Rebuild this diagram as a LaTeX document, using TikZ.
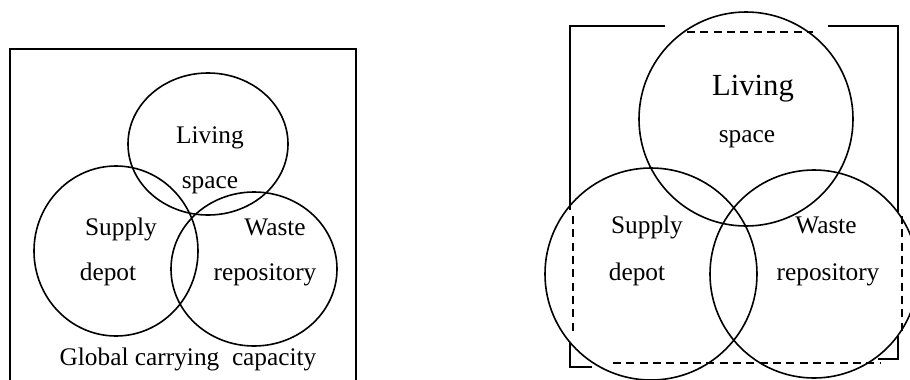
\documentclass[tikz,border=0pt]{standalone}
\usepackage{fontspec}
\setmainfont{Liberation Serif}
\usepackage{tikz}
\usetikzlibrary{calc}

\begin{document}
\begin{tikzpicture}[x=0.75pt,y=-0.75pt
                    ]
                % define styles
\tikzset{ring/.style={draw=black,
                       line width=1.2pt,
                       },
         edge/.style={draw=black,
                       line width=1.2pt,
                       line join=miter,
                       },
         broken/.style={draw=black,
                       line width=1pt,
                       dash pattern=on 6pt off 4pt,
                       },
         word/.style={anchor=base,
                       inner sep=0,
                       font=\fontsize{19}{22}\selectfont,
                       }
}

\useasboundingbox (0,0) rectangle (910,379);
\clip (0,0) rectangle (910,379);

% circle centres
\coordinate (live1)   at (208,144);
\coordinate (supply1) at (116,251);
\coordinate (waste1)  at (254,269);
\coordinate (live2)   at (746,119);
\coordinate (supply2) at (651,274);
\coordinate (waste2)  at (814,274);

% left panel: global carrying capacity
\draw[edge] (10,390) -- (10,49) -- (356,49) -- (356,390);

\draw[ring] (live1)   ellipse [x radius=80, y radius=71];
\draw[ring] (supply1) ellipse [x radius=82, y radius=85];
\draw[ring] (waste1)  ellipse [x radius=83, y radius=77];

% labels
\node[word] (l-living) at (210,143) {Living};
\node[word] (l-space)  at (210,188) {space};
\node[word] (l-supply) at (121,235) {Supply};
\node[word] (l-depot)  at (108,280) {depot};
\node[word] (l-waste)  at (275,235) {Waste};
\node[word] (l-repo)   at (265,280) {repository};
\node[word] (l-global) at (188,365) {Global carrying\ \ capacity};

% right panel: the three circles outgrow the box
\draw[ring] (live2)   circle [radius=107];
\draw[ring] (supply2) circle [radius=106];
\draw[ring] (waste2)  circle [radius=104];

% solid parts of the box
\draw[edge] (665,26) -- (570,26) -- (570,210);
\draw[edge] (828,26) -- (898,26) -- (898,212);
\draw[edge] (570,342) -- (570,367) -- (592,367);
\draw[edge] (898,336) -- (898,359) -- (878,359);

% dashed parts of the box
\draw[broken] (687,32) -- (813,32);
\draw[broken] (573,216) -- (573,334);
\draw[broken] (902,216) -- (902,334);
\draw[broken] (613,363) -- (880,363);

% labels
\node[word,font=\fontsize{23}{26}\selectfont] (r-living) at (753,95) {Living};
\node[word] (r-space)  at (747,142) {space};
\node[word] (r-supply) at (647,233) {Supply};
\node[word] (r-depot)  at (637,280) {depot};
\node[word] (r-waste)  at (826,233) {Waste};
\node[word] (r-repo)   at (828,280) {repository};

\end{tikzpicture}
\end{document}
